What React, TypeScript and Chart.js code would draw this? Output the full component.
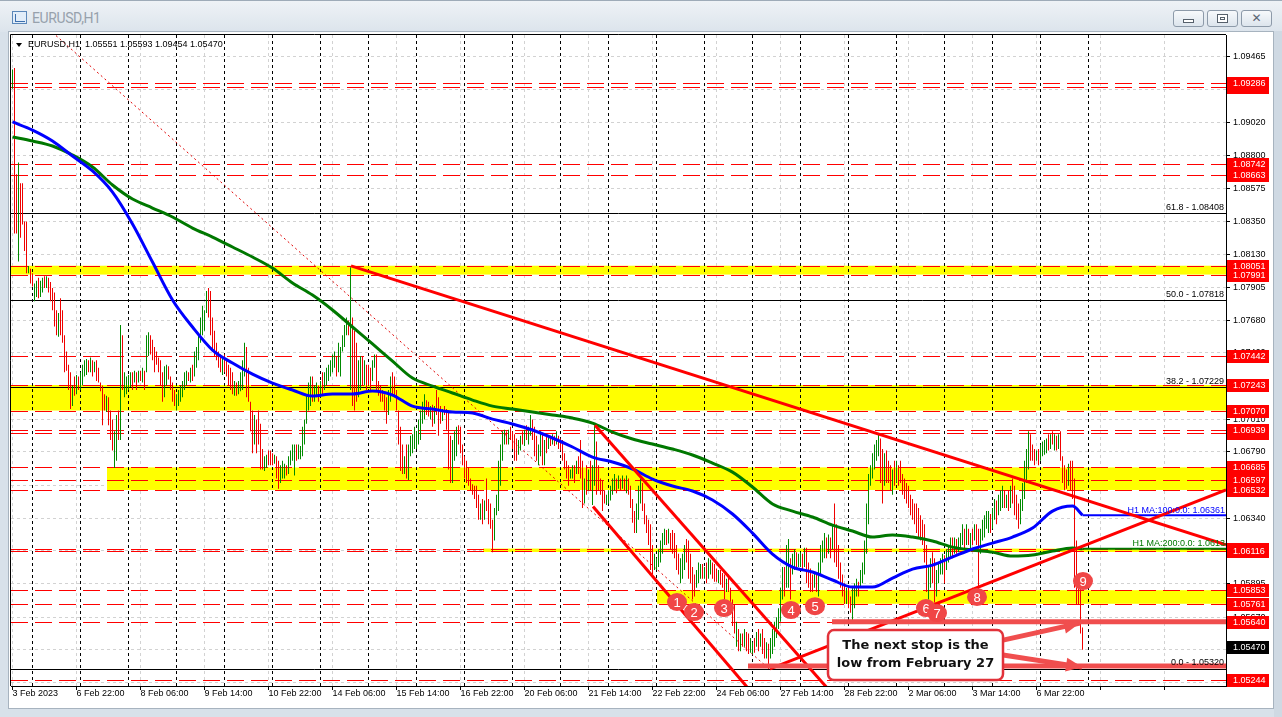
import { useEffect, useRef } from "react";
import { Chart, registerables } from "chart.js";

Chart.register(...registerables);

// ---------------- text ----------------
const WINDOW_TITLE = "EURUSD,H1";
const HEADER_TEXT = "EURUSD,H1  1.05551 1.05593 1.09454 1.05470";
const NOTE_LINES = ["The next stop is the", "low from February 27"];

// ---------------- time axis (bar index = hourly bar) ----------------
const TIME_LABELS = ["3 Feb 2023", "6 Feb 22:00", "8 Feb 06:00", "9 Feb 14:00", "10 Feb 22:00", "14 Feb 06:00", "15 Feb 14:00", "16 Feb 22:00", "20 Feb 06:00", "21 Feb 14:00", "22 Feb 22:00", "24 Feb 06:00", "27 Feb 14:00", "28 Feb 22:00", "2 Mar 06:00", "3 Mar 14:00", "6 Mar 22:00"];
const TIME_LABEL_BARS = [0, 32, 64, 96, 128, 160, 192, 224, 256, 288, 320, 352, 384, 416, 448, 480, 512];
const EXTRA_GRID_BARS = [544, 576];
const DAY_START_BARS = [10, 34, 58, 82, 106, 130, 154, 178, 202, 226, 250, 274, 298, 322, 346, 370, 394, 418, 442, 466, 490, 514, 538];
const X_MIN = -0.75;
const X_MAX = 606.75;

// ---------------- price axis ----------------
const PRICE_TICKS = [1.09465, 1.09243, 1.0902, 1.088, 1.08575, 1.0835, 1.0813, 1.07905, 1.0768, 1.0746, 1.07235, 1.0701, 1.0679, 1.06565, 1.0634, 1.0612, 1.05895, 1.0567, 1.0545, 1.05225];
const PRICE_MIN = 1.05204;
const PRICE_MAX = 1.09614;
const CURRENT_PRICE = 1.0547;

// ---------------- hourly candles ----------------
const HIGHS = [
  1.0938, 1.0939, 1.0867, 1.0875, 1.0861, 1.0861, 1.0835, 1.0835, 1.0805, 1.0803,
  1.0800, 1.0793, 1.0795, 1.0797, 1.0795, 1.0797, 1.0798, 1.0798, 1.0797, 1.0794,
  1.0790, 1.0787, 1.0775, 1.0773, 1.0783, 1.0775, 1.0758, 1.0747, 1.0738, 1.0733,
  1.0724, 1.0730, 1.0731, 1.0730, 1.0733, 1.0738, 1.0741, 1.0742, 1.0741, 1.0743,
  1.0741, 1.0740, 1.0741, 1.0736, 1.0726, 1.0724, 1.0718, 1.0717, 1.0716, 1.0707,
  1.0701, 1.0693, 1.0704, 1.0707, 1.0765, 1.0758, 1.0733, 1.0730, 1.0731, 1.0733,
  1.0733, 1.0734, 1.0733, 1.0734, 1.0734, 1.0736, 1.0734, 1.0758, 1.0760, 1.0758,
  1.0755, 1.0750, 1.0747, 1.0743, 1.0741, 1.0733, 1.0737, 1.0738, 1.0737, 1.0730,
  1.0726, 1.0721, 1.0718, 1.0721, 1.0724, 1.0727, 1.0733, 1.0734, 1.0733, 1.0736,
  1.0738, 1.0747, 1.0750, 1.0758, 1.0770, 1.0778, 1.0775, 1.0788, 1.0790, 1.0788,
  1.0770, 1.0761, 1.0753, 1.0747, 1.0745, 1.0744, 1.0745, 1.0741, 1.0738, 1.0736,
  1.0733, 1.0727, 1.0726, 1.0727, 1.0733, 1.0741, 1.0753, 1.0750, 1.0736, 1.0713,
  1.0707, 1.0704, 1.0701, 1.0707, 1.0698, 1.0681, 1.0676, 1.0677, 1.0680, 1.0680,
  1.0678, 1.0677, 1.0676, 1.0673, 1.0670, 1.0673, 1.0671, 1.0670, 1.0676, 1.0680,
  1.0684, 1.0684, 1.0684, 1.0684, 1.0683, 1.0696, 1.0701, 1.0718, 1.0726, 1.0730,
  1.0730, 1.0724, 1.0726, 1.0724, 1.0727, 1.0733, 1.0733, 1.0736, 1.0738, 1.0741,
  1.0745, 1.0747, 1.0744, 1.0753, 1.0750, 1.0758, 1.0765, 1.0770, 1.0768, 1.0804,
  1.0770, 1.0761, 1.0753, 1.0741, 1.0744, 1.0744, 1.0741, 1.0738, 1.0738, 1.0736,
  1.0741, 1.0745, 1.0745, 1.0727, 1.0724, 1.0721, 1.0718, 1.0716, 1.0721, 1.0730,
  1.0733, 1.0730, 1.0721, 1.0707, 1.0696, 1.0684, 1.0676, 1.0684, 1.0684, 1.0690,
  1.0691, 1.0696, 1.0693, 1.0701, 1.0707, 1.0713, 1.0718, 1.0714, 1.0713, 1.0710,
  1.0711, 1.0710, 1.0721, 1.0716, 1.0710, 1.0708, 1.0710, 1.0708, 1.0707, 1.0690,
  1.0687, 1.0693, 1.0696, 1.0697, 1.0696, 1.0684, 1.0676, 1.0673, 1.0668, 1.0661,
  1.0657, 1.0656, 1.0656, 1.0650, 1.0644, 1.0647, 1.0646, 1.0661, 1.0647, 1.0644,
  1.0633, 1.0641, 1.0650, 1.0673, 1.0684, 1.0693, 1.0694, 1.0693, 1.0694, 1.0696,
  1.0693, 1.0691, 1.0688, 1.0687, 1.0690, 1.0693, 1.0694, 1.0697, 1.0696, 1.0704,
  1.0701, 1.0696, 1.0690, 1.0684, 1.0693, 1.0691, 1.0687, 1.0690, 1.0690, 1.0690,
  1.0691, 1.0690, 1.0693, 1.0690, 1.0688, 1.0687, 1.0678, 1.0673, 1.0670, 1.0667,
  1.0670, 1.0670, 1.0673, 1.0676, 1.0687, 1.0673, 1.0661, 1.0670, 1.0667, 1.0673,
  1.0670, 1.0697, 1.0686, 1.0670, 1.0661, 1.0660, 1.0653, 1.0650, 1.0653, 1.0656,
  1.0661, 1.0664, 1.0661, 1.0663, 1.0661, 1.0663, 1.0661, 1.0663, 1.0661, 1.0656,
  1.0647, 1.0639, 1.0644, 1.0656, 1.0661, 1.0658, 1.0644, 1.0636, 1.0633, 1.0630,
  1.0616, 1.0610, 1.0607, 1.0613, 1.0619, 1.0624, 1.0627, 1.0626, 1.0627, 1.0624,
  1.0626, 1.0624, 1.0616, 1.0610, 1.0607, 1.0610, 1.0616, 1.0620, 1.0619, 1.0610,
  1.0601, 1.0596, 1.0599, 1.0604, 1.0603, 1.0603, 1.0601, 1.0604, 1.0607, 1.0606,
  1.0604, 1.0603, 1.0600, 1.0599, 1.0599, 1.0597, 1.0596, 1.0593, 1.0596, 1.0587,
  1.0579, 1.0576, 1.0564, 1.0559, 1.0556, 1.0556, 1.0559, 1.0557, 1.0556, 1.0553,
  1.0550, 1.0553, 1.0557, 1.0559, 1.0556, 1.0559, 1.0553, 1.0550, 1.0549, 1.0553,
  1.0559, 1.0564, 1.0567, 1.0573, 1.0587, 1.0601, 1.0601, 1.0616, 1.0620, 1.0607,
  1.0610, 1.0613, 1.0611, 1.0610, 1.0611, 1.0610, 1.0614, 1.0614, 1.0604, 1.0600,
  1.0596, 1.0597, 1.0596, 1.0604, 1.0616, 1.0619, 1.0624, 1.0621, 1.0623, 1.0621,
  1.0630, 1.0644, 1.0630, 1.0616, 1.0604, 1.0596, 1.0590, 1.0587, 1.0587, 1.0581,
  1.0587, 1.0590, 1.0593, 1.0591, 1.0599, 1.0604, 1.0619, 1.0644, 1.0664, 1.0670,
  1.0678, 1.0684, 1.0687, 1.0691, 1.0688, 1.0681, 1.0678, 1.0680, 1.0673, 1.0670,
  1.0667, 1.0673, 1.0673, 1.0670, 1.0673, 1.0664, 1.0661, 1.0658, 1.0656, 1.0650,
  1.0647, 1.0644, 1.0644, 1.0641, 1.0636, 1.0633, 1.0630, 1.0616, 1.0601, 1.0607,
  1.0611, 1.0607, 1.0599, 1.0604, 1.0607, 1.0610, 1.0609, 1.0613, 1.0616, 1.0621,
  1.0621, 1.0621, 1.0620, 1.0621, 1.0624, 1.0630, 1.0627, 1.0630, 1.0627, 1.0624,
  1.0627, 1.0630, 1.0630, 1.0627, 1.0627, 1.0633, 1.0636, 1.0639, 1.0639, 1.0637,
  1.0641, 1.0647, 1.0646, 1.0650, 1.0653, 1.0656, 1.0653, 1.0650, 1.0653, 1.0656,
  1.0661, 1.0656, 1.0650, 1.0644, 1.0647, 1.0658, 1.0673, 1.0681, 1.0693, 1.0691,
  1.0684, 1.0681, 1.0680, 1.0681, 1.0684, 1.0686, 1.0687, 1.0688, 1.0691, 1.0691,
  1.0693, 1.0691, 1.0690, 1.0691, 1.0693, 1.0676, 1.0670, 1.0667, 1.0671, 1.0673,
  1.0673, 1.0661, 1.0619, 1.0596, 1.0587, 1.0560,
];
const LOWS = [
  1.0925, 1.0827, 1.0827, 1.0808, 1.0824, 1.0833, 1.0815, 1.0800, 1.0800, 1.0793,
  1.0791, 1.0781, 1.0784, 1.0783, 1.0784, 1.0787, 1.0790, 1.0790, 1.0787, 1.0781,
  1.0775, 1.0764, 1.0758, 1.0757, 1.0758, 1.0753, 1.0733, 1.0734, 1.0721, 1.0708,
  1.0710, 1.0717, 1.0718, 1.0721, 1.0721, 1.0724, 1.0730, 1.0731, 1.0733, 1.0733,
  1.0730, 1.0733, 1.0727, 1.0726, 1.0720, 1.0697, 1.0707, 1.0706, 1.0697, 1.0687,
  1.0680, 1.0668, 1.0673, 1.0687, 1.0687, 1.0721, 1.0716, 1.0718, 1.0721, 1.0723,
  1.0721, 1.0726, 1.0721, 1.0726, 1.0727, 1.0726, 1.0721, 1.0733, 1.0744, 1.0745,
  1.0741, 1.0733, 1.0738, 1.0733, 1.0724, 1.0713, 1.0716, 1.0724, 1.0728, 1.0721,
  1.0713, 1.0710, 1.0707, 1.0710, 1.0713, 1.0716, 1.0721, 1.0724, 1.0727, 1.0726,
  1.0727, 1.0730, 1.0736, 1.0741, 1.0753, 1.0758, 1.0761, 1.0773, 1.0770, 1.0758,
  1.0747, 1.0744, 1.0741, 1.0736, 1.0733, 1.0731, 1.0733, 1.0730, 1.0724, 1.0721,
  1.0718, 1.0717, 1.0717, 1.0718, 1.0720, 1.0721, 1.0730, 1.0716, 1.0713, 1.0693,
  1.0678, 1.0684, 1.0678, 1.0684, 1.0667, 1.0667, 1.0666, 1.0668, 1.0670, 1.0670,
  1.0670, 1.0671, 1.0661, 1.0654, 1.0658, 1.0661, 1.0661, 1.0663, 1.0664, 1.0670,
  1.0673, 1.0663, 1.0673, 1.0674, 1.0674, 1.0676, 1.0684, 1.0698, 1.0707, 1.0710,
  1.0713, 1.0713, 1.0716, 1.0713, 1.0716, 1.0718, 1.0721, 1.0724, 1.0727, 1.0730,
  1.0733, 1.0736, 1.0730, 1.0733, 1.0730, 1.0747, 1.0750, 1.0758, 1.0758, 1.0721,
  1.0710, 1.0707, 1.0713, 1.0716, 1.0721, 1.0724, 1.0724, 1.0721, 1.0724, 1.0721,
  1.0727, 1.0736, 1.0721, 1.0717, 1.0713, 1.0713, 1.0707, 1.0698, 1.0704, 1.0713,
  1.0717, 1.0716, 1.0707, 1.0684, 1.0666, 1.0664, 1.0664, 1.0661, 1.0660, 1.0676,
  1.0678, 1.0681, 1.0681, 1.0684, 1.0687, 1.0698, 1.0701, 1.0704, 1.0703, 1.0701,
  1.0696, 1.0698, 1.0704, 1.0690, 1.0698, 1.0700, 1.0704, 1.0694, 1.0667, 1.0658,
  1.0658, 1.0673, 1.0676, 1.0684, 1.0678, 1.0670, 1.0661, 1.0658, 1.0656, 1.0653,
  1.0650, 1.0647, 1.0641, 1.0633, 1.0633, 1.0630, 1.0633, 1.0639, 1.0630, 1.0627,
  1.0611, 1.0619, 1.0636, 1.0639, 1.0656, 1.0673, 1.0684, 1.0684, 1.0684, 1.0687,
  1.0681, 1.0673, 1.0673, 1.0677, 1.0680, 1.0684, 1.0683, 1.0687, 1.0684, 1.0690,
  1.0687, 1.0676, 1.0673, 1.0670, 1.0676, 1.0670, 1.0670, 1.0678, 1.0681, 1.0683,
  1.0684, 1.0683, 1.0684, 1.0681, 1.0680, 1.0673, 1.0667, 1.0661, 1.0656, 1.0661,
  1.0661, 1.0658, 1.0664, 1.0664, 1.0661, 1.0641, 1.0644, 1.0650, 1.0653, 1.0653,
  1.0643, 1.0656, 1.0650, 1.0653, 1.0650, 1.0639, 1.0644, 1.0643, 1.0644, 1.0646,
  1.0650, 1.0653, 1.0651, 1.0654, 1.0653, 1.0654, 1.0653, 1.0651, 1.0650, 1.0641,
  1.0631, 1.0624, 1.0624, 1.0633, 1.0644, 1.0639, 1.0630, 1.0624, 1.0616, 1.0599,
  1.0596, 1.0599, 1.0599, 1.0601, 1.0604, 1.0610, 1.0616, 1.0616, 1.0617, 1.0613,
  1.0610, 1.0607, 1.0599, 1.0596, 1.0590, 1.0593, 1.0599, 1.0604, 1.0593, 1.0590,
  1.0579, 1.0581, 1.0587, 1.0590, 1.0593, 1.0593, 1.0593, 1.0590, 1.0593, 1.0596,
  1.0593, 1.0591, 1.0591, 1.0590, 1.0589, 1.0587, 1.0579, 1.0584, 1.0584, 1.0570,
  1.0561, 1.0556, 1.0547, 1.0544, 1.0544, 1.0547, 1.0547, 1.0544, 1.0542, 1.0543,
  1.0542, 1.0543, 1.0547, 1.0544, 1.0547, 1.0542, 1.0539, 1.0539, 1.0532, 1.0539,
  1.0542, 1.0547, 1.0553, 1.0559, 1.0564, 1.0579, 1.0581, 1.0587, 1.0587, 1.0579,
  1.0596, 1.0599, 1.0600, 1.0601, 1.0601, 1.0599, 1.0601, 1.0590, 1.0587, 1.0584,
  1.0584, 1.0587, 1.0584, 1.0581, 1.0596, 1.0604, 1.0607, 1.0607, 1.0610, 1.0607,
  1.0613, 1.0604, 1.0601, 1.0593, 1.0587, 1.0581, 1.0576, 1.0576, 1.0573, 1.0570,
  1.0564, 1.0573, 1.0581, 1.0581, 1.0587, 1.0590, 1.0596, 1.0610, 1.0630, 1.0656,
  1.0661, 1.0667, 1.0673, 1.0676, 1.0658, 1.0644, 1.0656, 1.0658, 1.0658, 1.0653,
  1.0650, 1.0656, 1.0658, 1.0656, 1.0658, 1.0650, 1.0647, 1.0644, 1.0641, 1.0636,
  1.0633, 1.0630, 1.0624, 1.0621, 1.0619, 1.0616, 1.0604, 1.0584, 1.0579, 1.0587,
  1.0590, 1.0577, 1.0581, 1.0590, 1.0596, 1.0596, 1.0590, 1.0599, 1.0604, 1.0607,
  1.0607, 1.0610, 1.0610, 1.0611, 1.0613, 1.0616, 1.0613, 1.0616, 1.0616, 1.0613,
  1.0616, 1.0619, 1.0616, 1.0584, 1.0610, 1.0619, 1.0621, 1.0627, 1.0624, 1.0624,
  1.0627, 1.0633, 1.0630, 1.0636, 1.0639, 1.0641, 1.0641, 1.0641, 1.0639, 1.0641,
  1.0644, 1.0636, 1.0633, 1.0627, 1.0630, 1.0639, 1.0647, 1.0658, 1.0667, 1.0673,
  1.0673, 1.0670, 1.0673, 1.0670, 1.0673, 1.0676, 1.0677, 1.0678, 1.0680, 1.0681,
  1.0684, 1.0680, 1.0680, 1.0681, 1.0673, 1.0658, 1.0653, 1.0654, 1.0656, 1.0653,
  1.0647, 1.0587, 1.0576, 1.0576, 1.0556, 1.0545,
];
// u = bullish (green), d = bearish (red)
const BAR_DIRECTION = [
  "udduddddud", "duuduududd", "dddudddddd", "ududuuuudu", "dudddddudd",
  "duududuuuu", "dudududuud", "dddddduudd", "dduuuuuudu", "duuuuuuudd",
  "dddddudddd", "duduuuuddd", "dudddduudd", "dudduuuduu", "uuduuuuuuu",
  "duududuuuu", "uuduuuuudu", "ddduududdd", "uudddddduu", "dddddduduu",
  "uuuuuuuddu", "dudddudddd", "uuuddddddd", "ddddududdd", "duuuuuudud",
  "ddduududuu", "ddduududud", "ududdddddu", "ududddudud", "uuddddduuu",
  "uududududd", "dduuuddddd", "duuuuuudud", "dddduuuddd", "dduuududuu",
  "dddudddudd", "ddudududdu", "udududdudu", "uuuuuuduud", "uuduududdd",
  "duduuuudud", "uddddddudd", "uuuduuuuuu", "uuuudduddd", "ududdddddd",
  "dddddddduu", "dduuuuduuu", "duduuududu", "dudduuuuud", "uuduuududu",
  "dddduuuuud", "dduduuuudu", "dududdddud", "dddddd",
].join("");

// ---------------- moving averages (sampled) ----------------
const MA_BARS = [0, 10, 20, 30, 40, 50, 60, 70, 80, 90, 100, 110, 120, 130, 140, 150, 160, 170, 180, 190, 200, 210, 220, 230, 240, 250, 260, 270, 280, 290, 300, 310, 320, 330, 340, 350, 360, 370, 380, 390, 400, 410, 420, 430, 440, 450, 460, 470, 480, 490, 500, 510, 520, 530, 535];
const MA100 = [1.09025, 1.0897, 1.08896, 1.08794, 1.08693, 1.0855, 1.08334, 1.08076, 1.07819, 1.07636, 1.0748, 1.07392, 1.07317, 1.07256, 1.07209, 1.07168, 1.07182, 1.07182, 1.07202, 1.07175, 1.071, 1.0708, 1.0706, 1.07053, 1.07012, 1.06979, 1.06938, 1.06884, 1.06823, 1.06755, 1.06721, 1.06674, 1.06606, 1.06559, 1.06525, 1.06464, 1.06369, 1.0624, 1.06098, 1.0601, 1.05976, 1.05922, 1.05874, 1.05874, 1.05935, 1.05996, 1.06023, 1.06078, 1.06132, 1.06172, 1.06213, 1.06274, 1.06389, 1.06423, 1.06361];
const MA200 = [1.08923, 1.08896, 1.08862, 1.08801, 1.0872, 1.08598, 1.08503, 1.08442, 1.08381, 1.08306, 1.08245, 1.08178, 1.0811, 1.08035, 1.07934, 1.07852, 1.07751, 1.07636, 1.07521, 1.07405, 1.0729, 1.07236, 1.07189, 1.07141, 1.071, 1.0708, 1.0706, 1.0704, 1.07019, 1.06985, 1.06924, 1.06877, 1.06843, 1.06809, 1.06769, 1.06714, 1.06653, 1.06552, 1.06437, 1.06389, 1.06349, 1.06294, 1.06254, 1.06213, 1.06227, 1.06213, 1.06186, 1.06145, 1.06125, 1.06111, 1.06084, 1.06091, 1.06118, 1.06139, 1.06134];

// ---------------- horizontal levels (drawing order for axis tags) ----------------
const LEVEL_PRICES = [1.09264, 1.09286, 1.08742, 1.08663, 1.08051, 1.07991, 1.07442, 1.07243, 1.0707, 1.06915, 1.06939, 1.06685, 1.06597, 1.06532, 1.06135, 1.06116, 1.05853, 1.05761, 1.0564, 1.05244];

// ---------------- fibonacci ----------------
const FIB_PERCENT = [61.8, 50.0, 38.2, 0.0];
const FIB_PRICES = [1.08408, 1.07818, 1.07229, 1.0532];
const FIB_DIAG_BARS = [21.75, 378.25];
const FIB_DIAG_PRICES = [1.0961, 1.0532];

// ---------------- yellow zones ----------------
const ZONE_FROM_BAR = [X_MIN, X_MIN, 47.25, 235.25, 322.25];
const ZONE_TOP = [1.08051, 1.07243, 1.06685, 1.06135, 1.05853];
const ZONE_BOTTOM = [1.07991, 1.0707, 1.06532, 1.06112, 1.05761];

// ---------------- trend lines ----------------
const TREND_FROM_BAR = [169.25, 378.75, 291.25, 290.25];
const TREND_FROM_PRICE = [1.0805, 1.0532, 1.0697, 1.0642];
const TREND_TO_BAR = [X_MAX, X_MAX, 412.6, 372.75];
const TREND_TO_PRICE = [1.0616, 1.06532, 1.0511, 1.0511];

// ---------------- arrows ----------------
const ARROW_FROM_BAR = [409.75, 367.75, 495.25, 495.25];
const ARROW_FROM_PRICE = [1.0564, 1.05339, 1.05515, 1.05414];
const ARROW_TO_BAR = [X_MAX, X_MAX, 533.75, 534.75];
const ARROW_TO_PRICE = [1.0564, 1.05339, 1.0563, 1.05332];
const ARROW_HAS_HEAD = [false, false, true, true];

// ---------------- note box & numbered markers ----------------
const NOTE_BARS = [407.75, 495.25];
const NOTE_PRICES = [1.05583, 1.05244];
const MARKER_BARS = [332.25, 340.75, 355.75, 389.25, 401.25, 456.75, 462.25, 482.25, 535.25];
const MARKER_PRICES = [1.05773, 1.05705, 1.05732, 1.05718, 1.05745, 1.05732, 1.05698, 1.05807, 1.05915];
const MARKER_LABELS = ["1", "2", "3", "4", "5", "6", "7", "8", "9"];

// ---------------- styles ----------------
const FONT_FAMILY = '"Liberation Sans", Arial, sans-serif';
const AXIS_FONT = `9px ${FONT_FAMILY}`;
const CANDLE_UP = "#008a00";
const CANDLE_DOWN = "#f00000";
const MA100_COLOR = "#0000ff";
const MA200_COLOR = "#007800";
const TREND_COLOR = "#ff0000";
const ARROW_COLOR = "rgb(240,78,78)";
const LEVEL_COLOR = "#ff0000";
const TAG_COLOR = "#ff0000";

function buildConfig() {
  const datasets: any[] = [];
  const seg = (x1: number, y1: number, x2: number, y2: number) => [
    { x: x1, y: y1 },
    { x: x2, y: y2 },
  ];

  ARROW_FROM_BAR.forEach((_, k) => {
    datasets.push({
      type: "line",
      data: seg(ARROW_FROM_BAR[k], ARROW_FROM_PRICE[k], ARROW_TO_BAR[k], ARROW_TO_PRICE[k]),
      borderColor: ARROW_COLOR,
      borderWidth: 5,
      pointRadius: 0,
      order: 0,
      clip: 0,
    });
  });

  TREND_FROM_BAR.forEach((_, k) => {
    datasets.push({
      type: "line",
      data: seg(TREND_FROM_BAR[k], TREND_FROM_PRICE[k], TREND_TO_BAR[k], TREND_TO_PRICE[k]),
      borderColor: TREND_COLOR,
      borderWidth: 3,
      pointRadius: 0,
      order: 1,
      clip: 0,
    });
  });

  const last = MA_BARS[MA_BARS.length - 1];
  datasets.push({
    type: "line",
    data: seg(last, MA100[MA100.length - 1], X_MAX, MA100[MA100.length - 1]),
    borderColor: MA100_COLOR,
    borderWidth: 2,
    pointRadius: 0,
    order: 2,
    clip: 0,
  });
  datasets.push({
    type: "line",
    data: seg(last, MA200[MA200.length - 1], X_MAX, MA200[MA200.length - 1]),
    borderColor: MA200_COLOR,
    borderWidth: 2,
    pointRadius: 0,
    order: 2,
    clip: 0,
  });
  datasets.push({
    type: "line",
    data: MA_BARS.map((b, k) => ({ x: b, y: MA100[k] })),
    borderColor: MA100_COLOR,
    borderWidth: 3,
    pointRadius: 0,
    cubicInterpolationMode: "monotone",
    order: 2,
    clip: 0,
  });
  datasets.push({
    type: "line",
    data: MA_BARS.map((b, k) => ({ x: b, y: MA200[k] })),
    borderColor: MA200_COLOR,
    borderWidth: 3,
    pointRadius: 0,
    cubicInterpolationMode: "monotone",
    order: 2,
    clip: 0,
  });

  datasets.push({
    type: "bar",
    data: HIGHS.map((h, i) => ({ x: i, y: [LOWS[i], h] })),
    backgroundColor: HIGHS.map((_, i) => (BAR_DIRECTION[i] === "u" ? CANDLE_UP : CANDLE_DOWN)),
    borderWidth: 0,
    barThickness: 1,
    inflateAmount: 0,
    order: 3,
  });

  datasets.push({
    type: "line",
    data: seg(FIB_DIAG_BARS[0], FIB_DIAG_PRICES[0], FIB_DIAG_BARS[1], FIB_DIAG_PRICES[1]),
    borderColor: "#e00000",
    borderWidth: 1,
    borderDash: [2, 3],
    pointRadius: 0,
    order: 5,
    clip: 0,
  });

  const overlay = {
    id: "mt4Overlay",
    beforeDatasetsDraw(chart: any) {
      const { ctx, chartArea: a, scales } = chart;
      const xs = scales.x;
      const ys = scales.y;
      ctx.save();
      ctx.beginPath();
      ctx.rect(a.left, a.top, a.right - a.left, a.bottom - a.top);
      ctx.clip();
      ctx.fillStyle = "#ffff00";
      ZONE_FROM_BAR.forEach((from, k) => {
        const x0 = Math.max(a.left, xs.getPixelForValue(from));
        const y0 = ys.getPixelForValue(ZONE_TOP[k]);
        const y1 = ys.getPixelForValue(ZONE_BOTTOM[k]);
        ctx.fillRect(x0, y0, a.right - x0, y1 - y0);
      });
      ctx.strokeStyle = "#000";
      ctx.lineWidth = 1;
      ctx.setLineDash([3, 3]);
      DAY_START_BARS.forEach((b) => {
        const xp = Math.floor(xs.getPixelForValue(b)) + 0.5;
        ctx.beginPath();
        ctx.moveTo(xp, a.top);
        ctx.lineTo(xp, a.bottom);
        ctx.stroke();
      });
      ctx.strokeStyle = LEVEL_COLOR;
      ctx.setLineDash([17, 7]);
      LEVEL_PRICES.forEach((p) => {
        const yp = Math.round(ys.getPixelForValue(p)) + 0.5;
        ctx.beginPath();
        ctx.moveTo(a.left, yp);
        ctx.lineTo(a.right, yp);
        ctx.stroke();
      });
      ctx.strokeStyle = "#000";
      ctx.setLineDash([]);
      FIB_PRICES.forEach((p) => {
        const yp = Math.round(ys.getPixelForValue(p)) + 0.5;
        ctx.beginPath();
        ctx.moveTo(a.left, yp);
        ctx.lineTo(a.right, yp);
        ctx.stroke();
      });
      ctx.restore();
    },
    afterDatasetsDraw(chart: any) {
      const { ctx, chartArea: a, scales } = chart;
      const xs = scales.x;
      const ys = scales.y;
      ctx.save();
      ctx.beginPath();
      ctx.rect(a.left, a.top, a.right - a.left, a.bottom - a.top);
      ctx.clip();

      ctx.fillStyle = ARROW_COLOR;
      ARROW_FROM_BAR.forEach((_, k) => {
        if (!ARROW_HAS_HEAD[k]) return;
        const sx = xs.getPixelForValue(ARROW_FROM_BAR[k]);
        const sy = ys.getPixelForValue(ARROW_FROM_PRICE[k]);
        const tx = xs.getPixelForValue(ARROW_TO_BAR[k]);
        const ty = ys.getPixelForValue(ARROW_TO_PRICE[k]);
        const ang = Math.atan2(ty - sy, tx - sx);
        const L = 16;
        const W = 7;
        const bx = tx - L * Math.cos(ang);
        const by = ty - L * Math.sin(ang);
        ctx.beginPath();
        ctx.moveTo(tx, ty);
        ctx.lineTo(bx + W * Math.sin(ang), by - W * Math.cos(ang));
        ctx.lineTo(bx - W * Math.sin(ang), by + W * Math.cos(ang));
        ctx.closePath();
        ctx.fill();
      });

      ctx.font = AXIS_FONT;
      ctx.textAlign = "right";
      ctx.textBaseline = "middle";
      ctx.fillStyle = "#000";
      FIB_PERCENT.forEach((pc, k) => {
        const yp = ys.getPixelForValue(FIB_PRICES[k]);
        ctx.fillText(`${pc.toFixed(1)} - ${FIB_PRICES[k].toFixed(5)}`, a.right - 2, yp - 6);
      });

      const m100 = MA100[MA100.length - 1];
      const m200 = MA200[MA200.length - 1];
      ctx.fillStyle = MA100_COLOR;
      ctx.fillText(`H1 MA:100:0.0: ${m100.toFixed(5)}`, a.right - 1, ys.getPixelForValue(m100) - 5);
      ctx.fillStyle = MA200_COLOR;
      ctx.fillText(`H1 MA:200:0.0: ${m200.toFixed(5)}`, a.right + 4, ys.getPixelForValue(m200) - 5);

      const bx0 = xs.getPixelForValue(NOTE_BARS[0]);
      const bx1 = xs.getPixelForValue(NOTE_BARS[1]);
      const by0 = ys.getPixelForValue(NOTE_PRICES[0]);
      const by1 = ys.getPixelForValue(NOTE_PRICES[1]);
      ctx.beginPath();
      ctx.roundRect(bx0, by0, bx1 - bx0, by1 - by0, 6);
      ctx.fillStyle = "#fff";
      ctx.fill();
      ctx.lineWidth = 2.5;
      ctx.strokeStyle = "#e2323a";
      ctx.stroke();
      ctx.fillStyle = "#111";
      ctx.font = 'bold 13px "DejaVu Sans", sans-serif';
      ctx.textAlign = "center";
      const cx = (bx0 + bx1) / 2;
      const cy = (by0 + by1) / 2;
      ctx.fillText(NOTE_LINES[0], cx, cy - 9);
      ctx.fillText(NOTE_LINES[1], cx, cy + 9);

      ctx.font = `13px ${FONT_FAMILY}`;
      MARKER_BARS.forEach((b, k) => {
        const mx = xs.getPixelForValue(b);
        const my = ys.getPixelForValue(MARKER_PRICES[k]);
        ctx.beginPath();
        ctx.ellipse(mx, my, 10, 9, 0, 0, Math.PI * 2);
        ctx.fillStyle = "#f04646";
        ctx.fill();
        ctx.fillStyle = "#fff";
        ctx.fillText(MARKER_LABELS[k], mx, my + 1);
      });
      ctx.restore();
    },
    afterDraw(chart: any) {
      const { ctx, chartArea: a, scales } = chart;
      const ys = scales.y;
      ctx.save();
      ctx.strokeStyle = "#000";
      ctx.lineWidth = 1;
      ctx.beginPath();
      ctx.moveTo(a.left - 0.5, a.bottom);
      ctx.lineTo(a.left - 0.5, a.top - 0.5);
      ctx.lineTo(a.right, a.top - 0.5);
      ctx.stroke();

      ctx.font = AXIS_FONT;
      ctx.textAlign = "left";
      ctx.textBaseline = "middle";
      const tx = ys.left + 1;
      const tag = (p: number, bg: string) => {
        const yp = Math.round(ys.getPixelForValue(p));
        ctx.fillStyle = bg;
        ctx.fillRect(tx, yp - 6, 42, 13);
        ctx.fillStyle = "#fff";
        ctx.fillText(p.toFixed(5), tx + 6, yp + 0.5);
      };
      LEVEL_PRICES.forEach((p) => tag(p, TAG_COLOR));
      tag(CURRENT_PRICE, "#000");

      ctx.fillStyle = "#000";
      ctx.beginPath();
      ctx.moveTo(a.left + 5, a.top + 8);
      ctx.lineTo(a.left + 11, a.top + 8);
      ctx.lineTo(a.left + 8, a.top + 12);
      ctx.closePath();
      ctx.fill();
      ctx.fillText(HEADER_TEXT, a.left + 17, a.top + 10);
      ctx.restore();
    },
  };

  return {
    type: "bar",
    data: { datasets },
    options: {
      animation: false,
      responsive: false,
      maintainAspectRatio: false,
      devicePixelRatio: 1,
      events: [],
      layout: { padding: { left: 1, top: 1, right: 0, bottom: 0 } },
      plugins: { legend: { display: false }, tooltip: { enabled: false } },
      scales: {
        x: {
          type: "linear",
          min: X_MIN,
          max: X_MAX,
          offset: false,
          afterBuildTicks: (s: any) => {
            s.ticks = [...TIME_LABEL_BARS, ...EXTRA_GRID_BARS].map((v) => ({ value: v }));
          },
          afterFit: (s: any) => {
            s.height = 21;
            s.paddingLeft = 0;
            s.paddingRight = 0;
          },
          ticks: {
            autoSkip: false,
            maxRotation: 0,
            minRotation: 0,
            align: "start",
            padding: -2,
            color: "#000",
            font: { family: FONT_FAMILY, size: 9 },
            callback: (v: any) => {
              const k = TIME_LABEL_BARS.indexOf(Number(v));
              return k >= 0 ? TIME_LABELS[k] : "";
            },
          },
          grid: {
            offset: false,
            color: "#d2d2d2",
            lineWidth: 1,
            drawTicks: true,
            tickLength: 4,
            tickColor: "#000",
            tickBorderDash: [],
          },
          border: { display: true, color: "#000", width: 1, dash: [3, 3] },
        },
        y: {
          type: "linear",
          position: "right",
          min: PRICE_MIN,
          max: PRICE_MAX,
          beginAtZero: false,
          afterBuildTicks: (s: any) => {
            s.ticks = PRICE_TICKS.map((v) => ({ value: v }));
          },
          afterFit: (s: any) => {
            s.width = 44;
            s.paddingTop = 0;
            s.paddingBottom = 0;
          },
          ticks: {
            padding: 3,
            color: "#000",
            font: { family: FONT_FAMILY, size: 9 },
            callback: (v: any) => Number(v).toFixed(5),
          },
          grid: {
            color: "#d2d2d2",
            lineWidth: 1,
            drawTicks: true,
            tickLength: 4,
            tickColor: "#000",
            tickBorderDash: [],
          },
          border: { display: true, color: "#000", width: 1, dash: [3, 3] },
        },
      },
    },
    plugins: [overlay],
  };
}

const btn: any = {
  position: "absolute",
  top: 10,
  width: 31,
  height: 17,
  border: "1px solid #8d9aa9",
  borderRadius: 3,
  background: "linear-gradient(#f7f9fb, #dde5ed)",
  boxSizing: "border-box",
};

export default function App() {
  const canvasRef = useRef<HTMLCanvasElement | null>(null);
  useEffect(() => {
    const canvas = canvasRef.current;
    if (!canvas) return;
    const chart = new Chart(canvas, buildConfig() as any);
    return () => chart.destroy();
  }, []);

  return (
    <div style={{ position: "fixed", left: 0, top: 0, width: 1282, height: 717, overflow: "hidden", background: "#d8e1ea" }}>
      <div style={{ position: "absolute", left: 0, top: 0, width: 1282, height: 32, background: "linear-gradient(#eef2f6, #dce4ec)", borderTop: "1px solid #9eabb8", boxSizing: "border-box" }} />
      <div style={{ position: "absolute", left: 12, top: 11, width: 15, height: 13, border: "1px solid #5b87b9", background: "#e2edf9", boxSizing: "border-box" }}>
        <div style={{ position: "absolute", left: 2, top: 2, width: 9, height: 7, borderLeft: "1px solid #3c6fae", borderBottom: "1px solid #3c6fae" }} />
      </div>
      <div style={{ position: "absolute", left: 32, top: 9, fontFamily: "Roboto, sans-serif", fontSize: 14, letterSpacing: -0.4, color: "#97a1ac", lineHeight: "18px", whiteSpace: "nowrap" }}>{WINDOW_TITLE}</div>
      <div style={{ ...btn, left: 1173 }}>
        <div style={{ position: "absolute", left: 9, top: 8, width: 11, height: 4, border: "1px solid #56606b", background: "#fff", boxSizing: "border-box" }} />
      </div>
      <div style={{ ...btn, left: 1207 }}>
        <div style={{ position: "absolute", left: 9, top: 3, width: 11, height: 9, border: "1px solid #56606b", background: "#fff", boxSizing: "border-box" }}>
          <div style={{ position: "absolute", left: 2, top: 2, width: 5, height: 3, border: "1px solid #56606b", boxSizing: "border-box" }} />
        </div>
      </div>
      <div style={{ ...btn, left: 1241, fontFamily: '"DejaVu Sans", sans-serif', fontSize: 12, lineHeight: "15px", textAlign: "center", color: "#5a6573" }}>✕</div>
      <div style={{ position: "absolute", left: 8, top: 31, width: 1266, height: 678, background: "#fff", border: "1px solid #a7b3bf", boxSizing: "border-box" }} />
      <div style={{ position: "absolute", left: 1274, top: 31, width: 8, height: 686, background: "#cfd9e3" }} />
      <canvas ref={canvasRef} width={1260} height={673} style={{ position: "absolute", left: 10, top: 34, width: 1260, height: 673, display: "block" }} />
    </div>
  );
}
